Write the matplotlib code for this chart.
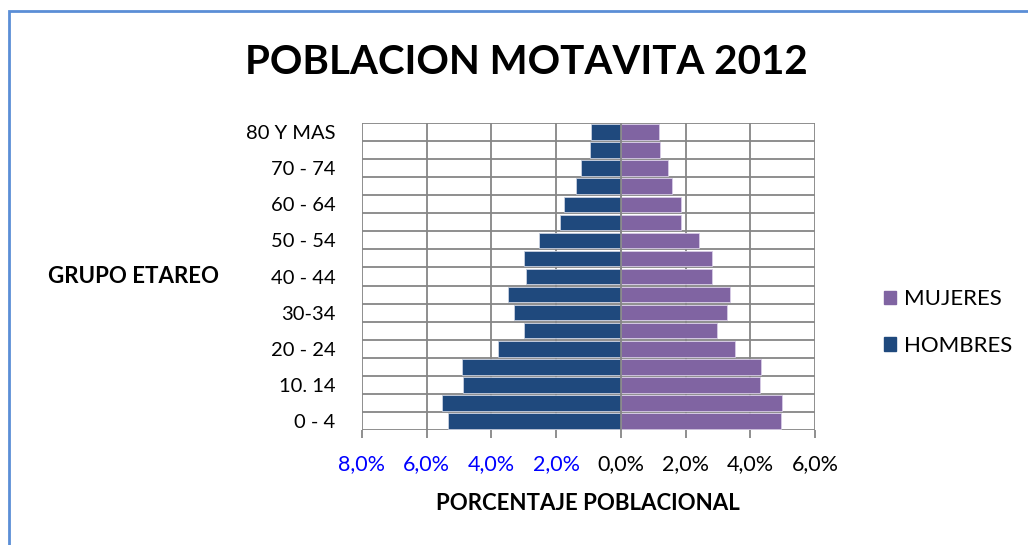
import matplotlib.pyplot as plt
from matplotlib.patches import Rectangle, Patch
import numpy as np

# === Data ===
grupos = ["0 - 4", "5 - 9", "10. 14", "15 - 19", "20 - 24", "25 - 29", "30-34",
          "35 - 39", "40 - 44", "45 - 49", "50 - 54", "55 - 59", "60 - 64",
          "65 - 69", "70 - 74", "75 - 79", "80 Y MAS"]
hombres = [5.33, 5.53, 4.88, 4.91, 3.81, 2.99, 3.29, 3.48, 2.94, 2.98, 2.53,
           1.87, 1.77, 1.38, 1.22, 0.95, 0.91]
mujeres = [4.96, 4.99, 4.29, 4.34, 3.54, 2.96, 3.27, 3.37, 2.81, 2.81, 2.43,
           1.87, 1.87, 1.58, 1.45, 1.20, 1.19]
xticks = [-8, -6, -4, -2, 0, 2, 4, 6]
xtick_labels = ["8,0%", "6,0%", "4,0%", "2,0%", "0,0%", "2,0%", "4,0%", "6,0%"]

plt.rcParams['font.family'] = ['Lato', 'DejaVu Sans']

fig = plt.figure(figsize=(10.28, 5.45), dpi=100)
ax = fig.add_axes([0.3521, 0.2110, 0.4407, 0.5633])

y = np.arange(len(grupos))
c_h = '#1F497D'
c_m = '#8064A2'
ax.barh(y, [-v for v in hombres], height=0.86, color=c_h, edgecolor='#c8d0e0',
        linewidth=0.6, zorder=3)
ax.barh(y, mujeres, height=0.86, color=c_m, edgecolor='#d8cce6',
        linewidth=0.6, zorder=3)

ax.set_xlim(-8, 6)
ax.set_ylim(-0.5, len(grupos) - 0.5)

# grid: vertical at ticks, horizontal between categories
for x in xticks:
    ax.axvline(x, color='#868686', lw=1.3, zorder=1)
for b in np.arange(-0.5, len(grupos), 1):
    ax.axhline(b, color='#868686', lw=1.3, zorder=1)
ax.axvline(0, color='#868686', lw=1.3, zorder=4)

ax.set_xticks(xticks)
ax.set_xticklabels(xtick_labels, fontsize=15.5)
for i, lab in enumerate(ax.get_xticklabels()):
    lab.set_color('#0000FF' if xticks[i] < 0 else 'black')
ax.tick_params(axis='x', length=6, width=1.3, color='#868686', pad=11)

ax.set_yticks(y[::2])
ax.set_yticklabels(grupos[::2], fontsize=14.5)
ax.tick_params(axis='y', length=0, pad=19)

for s in ax.spines.values():
    s.set_visible(False)

# titles
fig.text(0.512, 0.885, "POBLACION MOTAVITA 2012", ha='center', va='center',
         fontsize=29, fontweight='bold')
fig.text(0.130, 0.493, "GRUPO ETAREO", ha='center', va='center',
         fontsize=16, fontweight='bold')
fig.text(0.572, 0.076, "PORCENTAJE POBLACIONAL", ha='center', va='center',
         fontsize=16, fontweight='bold')

handles = [Patch(color=c_m, label='MUJERES'), Patch(color=c_h, label='HOMBRES')]
fig.legend(handles=handles, loc='center left', bbox_to_anchor=(0.840, 0.408),
           frameon=False, fontsize=16, handlelength=0.55, handleheight=0.55,
           handletextpad=0.35, labelspacing=1.2)

# chart border
fig.patches.append(Rectangle((8.5 / 1028, -0.1), 1.2, 1 - 10.5 / 545 + 0.1,
                             transform=fig.transFigure, fill=False,
                             edgecolor='#5B8ED6', lw=2))

fig.savefig("out.png", dpi=100)
